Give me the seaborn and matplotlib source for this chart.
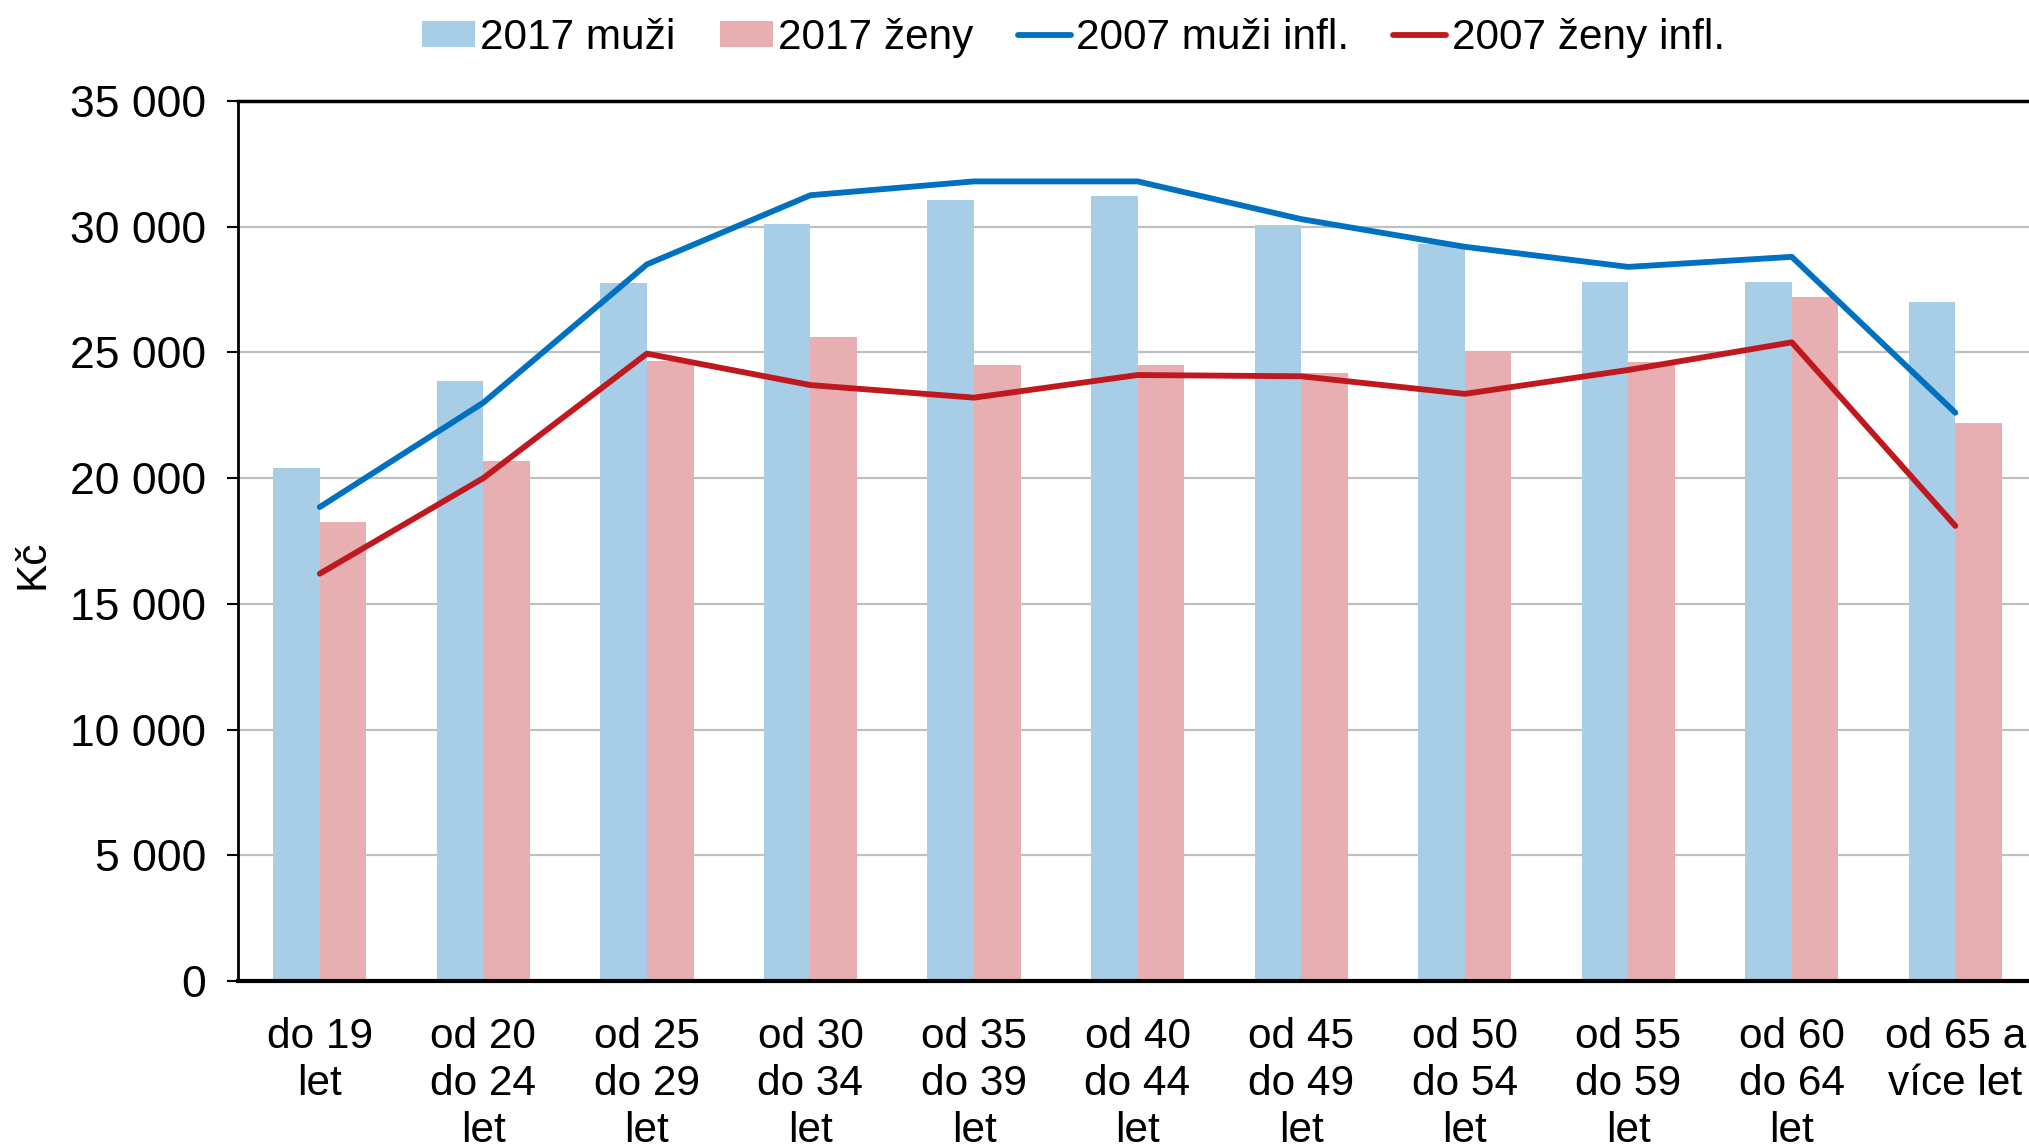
import numpy as np
import pandas as pd
import matplotlib
matplotlib.use("Agg")
import matplotlib.pyplot as plt
import seaborn as sns
from matplotlib.ticker import FuncFormatter

# Data
categories = ["do 19\nlet", "od 20\ndo 24\nlet", "od 25\ndo 29\nlet", "od 30\ndo 34\nlet",
              "od 35\ndo 39\nlet", "od 40\ndo 44\nlet", "od 45\ndo 49\nlet", "od 50\ndo 54\nlet",
              "od 55\ndo 59\nlet", "od 60\ndo 64\nlet", "od 65 a\nvíce let"]
muzi_2017 = [20400, 23850, 27750, 30100, 31050, 31200, 30050, 29300, 27800, 27800, 27000]
zeny_2017 = [18250, 20700, 24650, 25600, 24500, 24500, 24200, 25000, 24600, 27200, 22200]
muzi_2007_infl = [18850, 23000, 28500, 31250, 31800, 31800, 30300, 29200, 28400, 28800, 22600]
zeny_2007_infl = [16200, 20000, 24950, 23700, 23200, 24100, 24050, 23350, 24300, 25400, 18100]

series_names = ["2017 muži", "2017 ženy", "2007 muži infl.", "2007 ženy infl."]
colors = {"2017 muži": "#A7CDE7", "2017 ženy": "#E7AFB2",
          "2007 muži infl.": "#0070C0", "2007 ženy infl.": "#C0181F"}

sns.set_theme(style="white")
plt.rcParams["font.family"] = ["Liberation Sans", "DejaVu Sans"]
plt.rcParams["text.color"] = "black"
FS = 30.5

bars = pd.DataFrame({
    "kat": categories * 2,
    "skupina": [series_names[0]] * len(categories) + [series_names[1]] * len(categories),
    "kc": muzi_2017 + zeny_2017,
})

fig = plt.figure(figsize=(20.29, 11.47), dpi=100)
ax = fig.add_axes([0.1173, 0.1447, 0.8867, 0.7673])

sns.barplot(data=bars, x="kat", y="kc", hue="skupina", hue_order=series_names[:2],
            palette=colors, width=0.57, linewidth=0, saturation=1, ax=ax)

pos = np.arange(len(categories))
sns.lineplot(x=pos, y=muzi_2007_infl, color=colors["2007 muži infl."], lw=4.2,
             label="2007 muži infl.", ax=ax)
sns.lineplot(x=pos, y=zeny_2007_infl, color=colors["2007 ženy infl."], lw=4.2,
             label="2007 ženy infl.", ax=ax)

ax.set_xlim(-0.5, len(categories) - 0.5)
ax.set_ylim(0, 35000)
ax.set_yticks(np.arange(0, 35001, 5000))
ax.yaxis.set_major_formatter(FuncFormatter(lambda v, p: f"{int(v):,}".replace(",", " ")))
ax.yaxis.grid(True, color="#C0C0C0", lw=1.6)
ax.set_axisbelow(True)

ax.set_xticks(pos)
ax.set_xticklabels(categories, linespacing=1.22)
ax.set_xticks(np.arange(-0.5, len(categories), 1), minor=True)
ax.tick_params(axis="x", which="major", length=0, pad=26, labelsize=FS, colors="black")
ax.tick_params(axis="x", which="minor", length=10, width=1.5, color="black", direction="out")
ax.tick_params(axis="y", length=8, width=1.5, color="black", direction="out", pad=15,
               labelsize=32, labelcolor="black", left=True)

for s in ["left", "bottom", "top"]:
    ax.spines[s].set_color("black")
ax.spines["left"].set_linewidth(2)
ax.spines["bottom"].set_linewidth(3)
ax.spines["top"].set_linewidth(2.5)
ax.spines["right"].set_visible(False)

ax.set_xlabel("")
ax.set_ylabel("Kč", fontsize=FS, color="black")
ax.yaxis.set_label_coords(-0.103, 0.473)

handles, labels = ax.get_legend_handles_labels()
ax.get_legend().remove()
fig.legend(handles, labels, loc="center", bbox_to_anchor=(0.529, 0.967), ncol=4,
           frameon=False, fontsize=FS, handlelength=1.25, handleheight=0.55,
           handletextpad=0.12, columnspacing=1.05, borderaxespad=0, labelcolor="black")

fig.savefig("out.png", dpi=100)
